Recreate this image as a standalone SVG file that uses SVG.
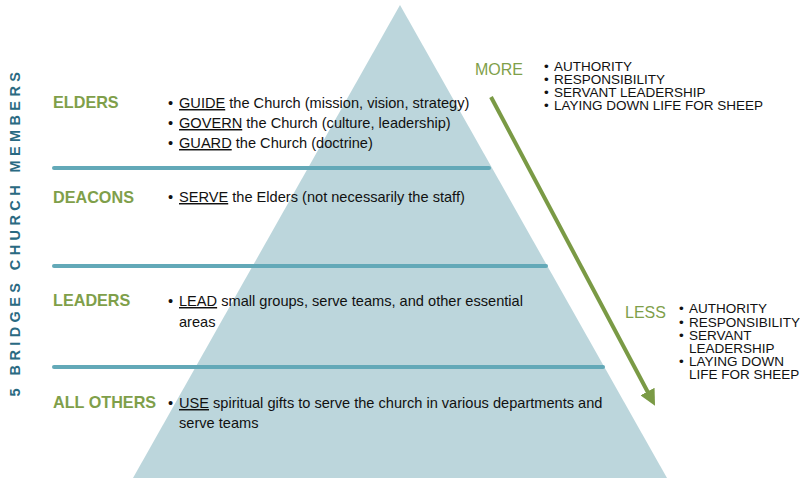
<svg xmlns="http://www.w3.org/2000/svg" width="800" height="478" viewBox="0 0 800 478">
<defs>
<style>
.lbl{font-family:"Liberation Sans",Arial,sans-serif;font-weight:bold;font-size:16.2px;fill:#7f9f4a}
.txt{font-family:"Liberation Sans",Arial,sans-serif;font-size:14.6px;fill:#111111}
.sm{font-family:"Liberation Sans",Arial,sans-serif;font-size:13.5px;fill:#111111}
.u{text-decoration:underline}
.sep{stroke:#63a9b8;stroke-width:4;stroke-linecap:round}
.grn{font-family:"Liberation Sans",Arial,sans-serif;font-size:16px;fill:#7f9f4a}
</style>
<marker id="ah" viewBox="0 0 10 10" refX="6" refY="5" markerWidth="4" markerHeight="4" orient="auto" markerUnits="strokeWidth">
<path d="M0,0 L10,5 L0,10 z" fill="#7a9a45"/>
</marker>
</defs>
<rect width="800" height="478" fill="#ffffff"/>
<polygon id="pyramid" points="400,5 667,478 133,478" fill="#bcd6dc"/>
<g id="separators">
<line class="sep" x1="54" y1="168" x2="489" y2="168"/>
<line class="sep" x1="54" y1="266" x2="546" y2="266"/>
<line class="sep" x1="54" y1="367" x2="603" y2="367"/>
</g>
<g id="connectors">
<line x1="491" y1="97" x2="652" y2="400" stroke="#7a9a45" stroke-width="4" marker-end="url(#ah)"/>
</g>
<text x="20" y="232" transform="rotate(-90 20 232)" text-anchor="middle" font-family="'Liberation Sans',Arial,sans-serif" font-weight="bold" font-size="14.5" letter-spacing="4.4" fill="#2a6a82">5 BRIDGES CHURCH MEMBERS</text>
<g id="elders">
<text class="lbl" x="53" y="108">ELDERS</text>
<text class="txt" x="168" y="108">•</text><text class="txt" x="179" y="108"><tspan class="u">GUIDE</tspan> the Church (mission, vision, strategy)</text>
<text class="txt" x="168" y="128">•</text><text class="txt" x="179" y="128"><tspan class="u">GOVERN</tspan> the Church (culture, leadership)</text>
<text class="txt" x="168" y="148">•</text><text class="txt" x="179" y="148"><tspan class="u">GUARD</tspan> the Church (doctrine)</text>
</g>
<g id="deacons">
<text class="lbl" x="53" y="203">DEACONS</text>
<text class="txt" x="168" y="202">•</text><text class="txt" x="179" y="202"><tspan class="u">SERVE</tspan> the Elders (not necessarily the staff)</text>
</g>
<g id="leaders">
<text class="lbl" x="53" y="306">LEADERS</text>
<text class="txt" x="168" y="306">•</text><text class="txt" x="179" y="306"><tspan class="u">LEAD</tspan> small groups, serve teams, and other essential</text>
<text class="txt" x="179" y="327">areas</text>
</g>
<g id="allothers">
<text class="lbl" x="53" y="408">ALL OTHERS</text>
<text class="txt" x="168" y="408">•</text><text class="txt" x="179" y="408"><tspan class="u">USE</tspan> spiritual gifts to serve the church in various departments and</text>
<text class="txt" x="179" y="428">serve teams</text>
</g>
<g id="more">
<text class="grn" x="475" y="75">MORE</text>
<text class="sm" x="544" y="71">•</text><text class="sm" x="554" y="71">AUTHORITY</text>
<text class="sm" x="544" y="84">•</text><text class="sm" x="554" y="84">RESPONSIBILITY</text>
<text class="sm" x="544" y="97">•</text><text class="sm" x="554" y="97">SERVANT LEADERSHIP</text>
<text class="sm" x="544" y="110">•</text><text class="sm" x="554" y="110">LAYING DOWN LIFE FOR SHEEP</text>
</g>
<g id="less">
<text class="grn" x="625" y="318">LESS</text>
<text class="sm" x="679" y="313">•</text><text class="sm" x="689" y="313">AUTHORITY</text>
<text class="sm" x="679" y="327">•</text><text class="sm" x="689" y="327">RESPONSIBILITY</text>
<text class="sm" x="679" y="340">•</text><text class="sm" x="689" y="340">SERVANT</text>
<text class="sm" x="689" y="353">LEADERSHIP</text>
<text class="sm" x="679" y="366">•</text><text class="sm" x="689" y="366">LAYING DOWN</text>
<text class="sm" x="689" y="379">LIFE FOR SHEEP</text>
</g>
</svg>
